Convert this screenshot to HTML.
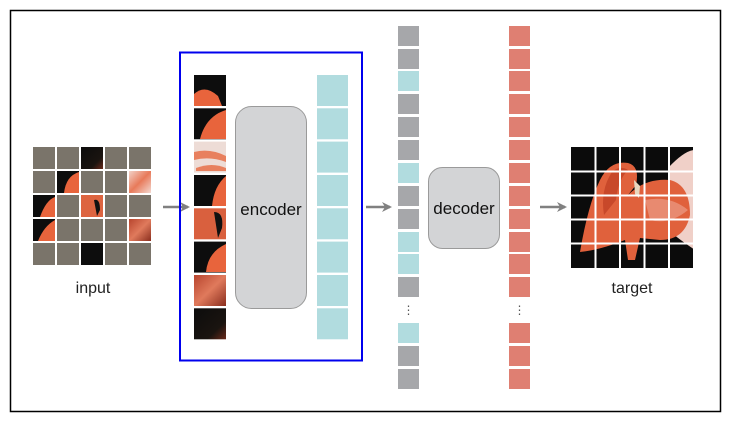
<!DOCTYPE html>
<html><head><style>
body{margin:0;background:#fff;width:732px;height:426px;overflow:hidden}
svg{display:block}
text{font-family:"Liberation Sans",Arial,sans-serif}
</style></head><body>
<svg width="732" height="426" viewBox="0 0 732 426" xmlns="http://www.w3.org/2000/svg">
<defs>
<linearGradient id="bo" x1="0" y1="0" x2="1" y2="0"><stop offset="0.4" stop-color="#111"/><stop offset="0.6" stop-color="#e8643c"/><stop offset="1" stop-color="#c9452a"/></linearGradient>
<linearGradient id="ob" x1="0" y1="0" x2="1" y2="0"><stop offset="0" stop-color="#e06a44"/><stop offset="0.55" stop-color="#d7552f"/><stop offset="0.75" stop-color="#111"/></linearGradient>
<linearGradient id="pk" x1="0" y1="0" x2="1" y2="1"><stop offset="0" stop-color="#f2d2c8"/><stop offset="0.5" stop-color="#e87a5a"/><stop offset="1" stop-color="#f3d8d0"/></linearGradient>
<linearGradient id="dk" x1="0" y1="0" x2="1" y2="1"><stop offset="0" stop-color="#0c0c0c"/><stop offset="0.7" stop-color="#1a1410"/><stop offset="1" stop-color="#6a2a1a"/></linearGradient>
<linearGradient id="rd" x1="0" y1="0" x2="1" y2="1"><stop offset="0" stop-color="#b8452e"/><stop offset="0.5" stop-color="#e07a5c"/><stop offset="1" stop-color="#8a2e1e"/></linearGradient>
<marker id="ar" markerWidth="10" markerHeight="10" refX="8" refY="5" orient="auto" markerUnits="userSpaceOnUse"><path d="M0,0 L10,5 L0,10 L3,5 Z" fill="#808080"/></marker>
<clipPath id="tc"><rect x="571" y="147" width="122" height="121"/></clipPath>
</defs>
<rect x="10.5" y="10.5" width="710" height="401" fill="#fff" stroke="#000" stroke-width="1.5"/>

<!-- input grid -->
<g>
<g fill="#7a746a">
<rect x="33" y="147" width="22" height="22"/><rect x="57" y="147" width="22" height="22"/><rect x="81" y="147" width="22" height="22" fill="url(#dk)"/><rect x="105" y="147" width="22" height="22"/><rect x="129" y="147" width="22" height="22"/>
<rect x="33" y="171" width="22" height="22"/><rect x="57" y="171" width="22" height="22" fill="#0d0d0d"/><rect x="105" y="171" width="22" height="22"/><rect x="129" y="171" width="22" height="22" fill="url(#pk)"/><rect x="81" y="171" width="22" height="22"/>
<rect x="33" y="195" width="22" height="22" fill="#0d0d0d"/><rect x="57" y="195" width="22" height="22"/><rect x="81" y="195" width="22" height="22" fill="#dd6440"/><rect x="105" y="195" width="22" height="22"/><rect x="129" y="195" width="22" height="22"/>
<rect x="33" y="219" width="22" height="22" fill="#0d0d0d"/><rect x="57" y="219" width="22" height="22"/><rect x="81" y="219" width="22" height="22"/><rect x="105" y="219" width="22" height="22"/><rect x="129" y="219" width="22" height="22" fill="url(#rd)"/>
<rect x="33" y="243" width="22" height="22"/><rect x="57" y="243" width="22" height="22"/><rect x="81" y="243" width="22" height="22" fill="#0d0d0d"/><rect x="105" y="243" width="22" height="22"/><rect x="129" y="243" width="22" height="22"/>
</g>
<path d="M64,193 Q66,176 79,172 L79,193 Z" fill="#e8643c"/>
<path d="M40,217 Q46,200 55,197 L55,217 Z" fill="#e8643c"/>
<path d="M38,241 Q44,226 55,220 L55,241 Z" fill="#e8643c"/>
<path d="M94,200 Q100,198 100,210 L97,216 Z" fill="#111"/>
<text x="93" y="293" font-size="16" text-anchor="middle" fill="#222">input</text>
</g>

<line x1="163" y1="207" x2="188" y2="207" stroke="#808080" stroke-width="2.5" marker-end="url(#ar)"/>

<!-- encoder -->
<rect x="180" y="52.5" width="182" height="308" fill="none" stroke="#0000ee" stroke-width="2"/>
<rect x="194" y="75" width="32" height="31" fill="#0d0d0d"/><path d="M194,106 L194,94 Q205,84 218,96 L222,106 Z" fill="#e8643c"/>
<rect x="194" y="108.3" width="32" height="31" fill="#0d0d0d"/><path d="M200,139 Q206,116 226,110 L226,139 Z" fill="#e8643c"/>
<rect x="194" y="141.6" width="32" height="31" fill="#eddcd6"/><path d="M194,152 Q210,148 226,156 L226,162 Q210,156 194,160 Z" fill="#e8805e"/><path d="M196,168 Q212,162 226,168 L226,171 L196,171Z" fill="#e8805e"/>
<rect x="194" y="175" width="32" height="31" fill="#0d0d0d"/><path d="M212,206 Q214,186 226,176 L226,206 Z" fill="#e8643c"/>
<rect x="194" y="208.3" width="32" height="31" fill="#d9603e"/><path d="M214,212 Q224,212 222,228 L218,238 Z" fill="#111"/>
<rect x="194" y="241.6" width="32" height="31" fill="#0d0d0d"/><path d="M206,272 Q208,252 226,244 L226,272 Z" fill="#e8643c"/>
<rect x="194" y="275" width="32" height="31" fill="url(#rd)"/>
<rect x="194" y="308.3" width="32" height="31" fill="url(#dk)"/>
<rect x="235.5" y="106.5" width="71" height="202" rx="16" fill="#d3d4d6" stroke="#9a9a9a" stroke-width="1"/>
<text x="271" y="215" font-size="17" text-anchor="middle" fill="#111">encoder</text>
<g fill="#b1dcdf">
<rect x="317" y="75" width="31" height="31"/><rect x="317" y="108.3" width="31" height="31"/><rect x="317" y="141.6" width="31" height="31"/><rect x="317" y="175" width="31" height="31"/>
<rect x="317" y="208.3" width="31" height="31"/><rect x="317" y="241.6" width="31" height="31"/><rect x="317" y="275" width="31" height="31"/><rect x="317" y="308.3" width="31" height="31"/>
</g>

<line x1="366" y1="207" x2="390" y2="207" stroke="#808080" stroke-width="2.5" marker-end="url(#ar)"/>

<!-- token column -->
<g>
<rect x="398" y="26" width="21" height="20" fill="#a6a7aa"/>
<rect x="398" y="49" width="21" height="20" fill="#a6a7aa"/>
<rect x="398" y="71" width="21" height="20" fill="#b1dcdf"/>
<rect x="398" y="94" width="21" height="20" fill="#a6a7aa"/>
<rect x="398" y="117" width="21" height="20" fill="#a6a7aa"/>
<rect x="398" y="140" width="21" height="20" fill="#a6a7aa"/>
<rect x="398" y="163" width="21" height="20" fill="#b1dcdf"/>
<rect x="398" y="186" width="21" height="20" fill="#a6a7aa"/>
<rect x="398" y="209" width="21" height="20" fill="#a6a7aa"/>
<rect x="398" y="232" width="21" height="20" fill="#b1dcdf"/>
<rect x="398" y="254" width="21" height="20" fill="#b1dcdf"/>
<rect x="398" y="277" width="21" height="20" fill="#a6a7aa"/>
<text x="408.5" y="314" font-size="12" text-anchor="middle" fill="#555">⋮</text>
<rect x="398" y="323" width="21" height="20" fill="#b1dcdf"/>
<rect x="398" y="346" width="21" height="20" fill="#a6a7aa"/>
<rect x="398" y="369" width="21" height="20" fill="#a6a7aa"/>
</g>

<rect x="428.5" y="167.5" width="71" height="81" rx="14" fill="#d3d4d6" stroke="#9a9a9a" stroke-width="1"/>
<text x="464" y="214" font-size="17" text-anchor="middle" fill="#111">decoder</text>

<g fill="#df7f72">
<rect x="509" y="26" width="21" height="20"/><rect x="509" y="49" width="21" height="20"/><rect x="509" y="71" width="21" height="20"/><rect x="509" y="94" width="21" height="20"/>
<rect x="509" y="117" width="21" height="20"/><rect x="509" y="140" width="21" height="20"/><rect x="509" y="163" width="21" height="20"/><rect x="509" y="186" width="21" height="20"/>
<rect x="509" y="209" width="21" height="20"/><rect x="509" y="232" width="21" height="20"/><rect x="509" y="254" width="21" height="20"/><rect x="509" y="277" width="21" height="20"/>
<rect x="509" y="323" width="21" height="20"/><rect x="509" y="346" width="21" height="20"/><rect x="509" y="369" width="21" height="20"/>
</g>
<text x="519.5" y="314" font-size="12" text-anchor="middle" fill="#555">⋮</text>

<line x1="540" y1="207" x2="565" y2="207" stroke="#808080" stroke-width="2.5" marker-end="url(#ar)"/>

<!-- target -->
<g clip-path="url(#tc)">
<rect x="571" y="147" width="122" height="121" fill="#0b0b0b"/>
<path d="M668,168 Q685,150 695,150 L695,250 Q680,240 668,230 Z" fill="#f0d0c8"/>
<path d="M580,252 Q588,205 600,180 Q610,160 628,163 Q640,166 636,185 L628,195 Q645,178 670,180 Q690,185 690,215 Q685,240 660,240 L640,238 L635,260 L628,260 L625,240 Q600,250 580,252 Z" fill="#e0613c"/>
<path d="M604,215 Q600,190 612,172 Q620,165 628,170 Q618,180 616,200 Z" fill="#c8482a"/>
<path d="M634,180 L640,186 L639,198 L635,194 Z" fill="#e8d8c0"/>
<path d="M645,200 Q670,195 688,210 Q670,225 650,220 Z" fill="#e88a70"/>
</g>
<g stroke="#fff" stroke-width="2">
<line x1="595.5" y1="147" x2="595.5" y2="268"/><line x1="620" y1="147" x2="620" y2="268"/><line x1="644.5" y1="147" x2="644.5" y2="268"/><line x1="669" y1="147" x2="669" y2="268"/>
<line x1="571" y1="171.5" x2="693" y2="171.5"/><line x1="571" y1="195.5" x2="693" y2="195.5"/><line x1="571" y1="219.5" x2="693" y2="219.5"/><line x1="571" y1="243.5" x2="693" y2="243.5"/>
</g>
<text x="632" y="293" font-size="16" text-anchor="middle" fill="#222">target</text>
</svg>
</body></html>
